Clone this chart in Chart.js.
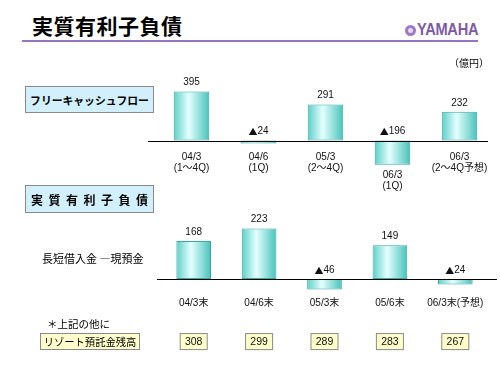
<!DOCTYPE html>
<html lang="ja">
<head>
<meta charset="utf-8">
<script src="https://cdn.jsdelivr.net/npm/chart.js@4"></script>
<style>
  html, body { margin:0; padding:0; background:#fff; }
  body { width:500px; height:375px; position:relative; overflow:hidden;
         font-family:"Liberation Sans","Noto Sans CJK JP",sans-serif; color:#000; }
  .abs { position:absolute; }
  #title { left:32px; top:12px; font:bold 21px "Noto Sans CJK JP",sans-serif; letter-spacing:0.5px; line-height:26px; }
  #rule { left:22px; top:40px; width:456px; height:2px; background:#9575bf; }
  #logo { left:405px; top:21px; height:18px; display:flex; align-items:center; color:#7d5aa8; }
  #logo .em { width:11px; height:11px; border-radius:50%; background:#9b7cc4; margin-right:1px; position:relative; }
  #logo .em::after { content:""; position:absolute; left:3px; top:3px; width:5px; height:5px; border-radius:50%; background:#e8dcf4; }
  #logo .tx { font:bold 17px "Liberation Sans",sans-serif; transform:scaleX(0.86); transform-origin:left center; letter-spacing:-0.3px; }
  #unit { left:449px; top:55px; font:10px "Noto Sans CJK JP",sans-serif; }
  .box { border:1px solid #8a8a8a; box-sizing:border-box; display:flex; align-items:center; justify-content:center; white-space:nowrap; }
  #fcfBox { left:25px; top:86px; width:129px; height:27px; background:#d2f0fb; font:bold 10.8px "Noto Sans CJK JP",sans-serif; }
  #debtBox { left:25px; top:185px; width:129px; height:28px; background:#d2f0fb; font:bold 12px "Noto Sans CJK JP",sans-serif; letter-spacing:5.5px; padding-left:5.5px; }
  #debtNote { left:42px; top:250px; font:11px "Noto Sans CJK JP",sans-serif; }
  #other { left:47px; top:316px; font:10.5px "Noto Sans CJK JP",sans-serif; }
  #resortBox { left:40px; top:333px; width:100px; height:17px; background:#ffffcc; font:10.3px "Noto Sans CJK JP",sans-serif; }
  #c1wrap { left:148px; top:60px; width:345px; height:135px; }
  #c2wrap { left:155px; top:200px; width:342px; height:155px; }
</style>
</head>
<body>
<div id="c1wrap" class="abs"><canvas id="c1"></canvas></div>
<div id="c2wrap" class="abs"><canvas id="c2"></canvas></div>
<div id="title" class="abs">実質有利子負債</div>
<div id="rule" class="abs"></div>
<div id="logo" class="abs"><div class="em"></div><div class="tx">YAMAHA</div></div>
<div id="unit" class="abs">（億円）</div>
<div id="fcfBox" class="abs box">フリーキャッシュフロー</div>
<div id="debtBox" class="abs box">実質有利子負債</div>
<div id="debtNote" class="abs">長短借入金 ―現預金</div>
<div id="other" class="abs">＊上記の他に</div>
<div id="resortBox" class="abs box">リゾート預託金残高</div>
<script>
// ---- data ----
const fcfCategories = [["04/3","(1～4Q)"],["04/6","(1Q)"],["05/3","(2～4Q)"],["06/3","(1Q)"],["06/3","(2～4Q予想)"]];
const fcfValues = [395, -24, 291, -196, 232];
const debtCategories = ["04/3末","04/6末","05/3末","05/6末","06/3末(予想)"];
const debtValues = [168, 223, -46, 149, -24];
const resortValues = [308, 299, 289, 283, 267];

const FONT = '"Liberation Sans","Noto Sans CJK JP",sans-serif';
const CJK = '"Noto Sans CJK JP",sans-serif';

function barGradient(ctx, barPct){
  const chart = ctx.chart;
  const area = chart.chartArea;
  if (!area) return '#8fe3dc';
  const xs = chart.scales.x;
  const cx = xs.getPixelForValue(ctx.dataIndex);
  const w = (area.right - area.left) / chart.data.labels.length * barPct;
  const g = chart.ctx.createLinearGradient(cx - w/2, 0, cx + w/2, 0);
  g.addColorStop(0, '#5ccfc6');
  g.addColorStop(0.42, '#e4ffff');
  g.addColorStop(1, '#46c2b9');
  return g;
}

function drawValue(c, v, x, y){
  const num = String(Math.abs(v));
  c.textBaseline = 'middle';
  if (v >= 0) { c.textAlign = 'center'; c.font = '10px ' + FONT; c.fillText(num, x, y); return; }
  c.font = '9px ' + CJK; const tw = c.measureText('▲').width;
  c.font = '10px ' + FONT; const nw = c.measureText(num).width;
  const x0 = x - (tw + nw) / 2;
  c.textAlign = 'left';
  c.font = '9px ' + CJK; c.fillText('▲', x0, y);
  c.font = '10px ' + FONT; c.fillText(num, x0 + tw, y);
  c.textAlign = 'center';
}

const labelPlugin = {
  id: 'labels',
  afterDatasetsDraw(chart, args, opts){
    const c = chart.ctx;
    const meta = chart.getDatasetMeta(0);
    const ys = chart.scales.y;
    const zero = ys.getPixelForValue(0);
    const area = chart.chartArea;
    c.save();
    c.strokeStyle = '#000'; c.lineWidth = 1;
    c.beginPath();
    c.moveTo(area.left - opts.lineLeft, Math.round(zero) + 0.5);
    c.lineTo(area.right + opts.lineRight, Math.round(zero) + 0.5);
    c.stroke();
    c.fillStyle = '#111';
    const vals = chart.data.datasets[0].data;
    meta.data.forEach((bar, i) => {
      const v = vals[i];
      const top = Math.min(bar.y, bar.base);
      const bottom = Math.max(bar.y, bar.base);
      drawValue(c, v, bar.x, (v >= 0 ? top : zero) - 9);
      const cat = opts.categories[i];
      const lines = Array.isArray(cat) ? cat : [cat];
      const y0 = Math.max(zero + opts.catGap, bottom + 10);
      c.textAlign = 'center'; c.textBaseline = 'middle';
      c.font = '10px ' + FONT;
      lines.forEach((t, k) => c.fillText(t, bar.x, y0 + k * 11));
      if (opts.boxes) {
        const t = String(opts.boxes[i]);
        const bw = 28, bh = 17, by = zero + 54;
        c.fillStyle = '#ffffcc';
        c.fillRect(bar.x - bw/2, by, bw, bh);
        c.strokeStyle = '#8a8a8a';
        c.strokeRect(bar.x - bw/2 + 0.5, by + 0.5, bw - 1, bh - 1);
        c.fillStyle = '#111';
        c.font = '10.5px ' + FONT;
        c.fillText(t, bar.x, by + bh/2 + 0.5);
      }
    });
    c.restore();
  }
};

function makeChart(id, cats, vals, yMin, yMax, pad, barPct, extra){
  return new Chart(document.getElementById(id), {
    type: 'bar',
    data: {
      labels: cats.map(c => Array.isArray(c) ? c.join(' ') : c),
      datasets: [{
        data: vals,
        backgroundColor: (ctx) => barGradient(ctx, barPct),
        borderColor: '#3aa9a6',
        borderWidth: 1,
        borderSkipped: false,
        barPercentage: barPct,
        categoryPercentage: 1
      }]
    },
    options: {
      responsive: true,
      maintainAspectRatio: false,
      animation: false,
      layout: { padding: pad },
      plugins: {
        legend: { display: false },
        tooltip: { enabled: false },
        labels: Object.assign({ categories: cats }, extra)
      },
      scales: {
        x: { display: false, offset: true },
        y: { display: false, min: yMin, max: yMax }
      }
    },
    plugins: [labelPlugin]
  });
}

makeChart('c1', fcfCategories, fcfValues, -440, 650,
  { left: 10, right: 0, top: 0, bottom: 0 }, 0.53,
  { lineLeft: 10, lineRight: -5, catGap: 17 });

makeChart('c2', debtCategories, debtValues, -334, 348,
  { left: 6, right: 9, top: 0, bottom: 0 }, 0.53,
  { lineLeft: 4, lineRight: 9, catGap: 24, boxes: resortValues });
</script>
</body>
</html>
